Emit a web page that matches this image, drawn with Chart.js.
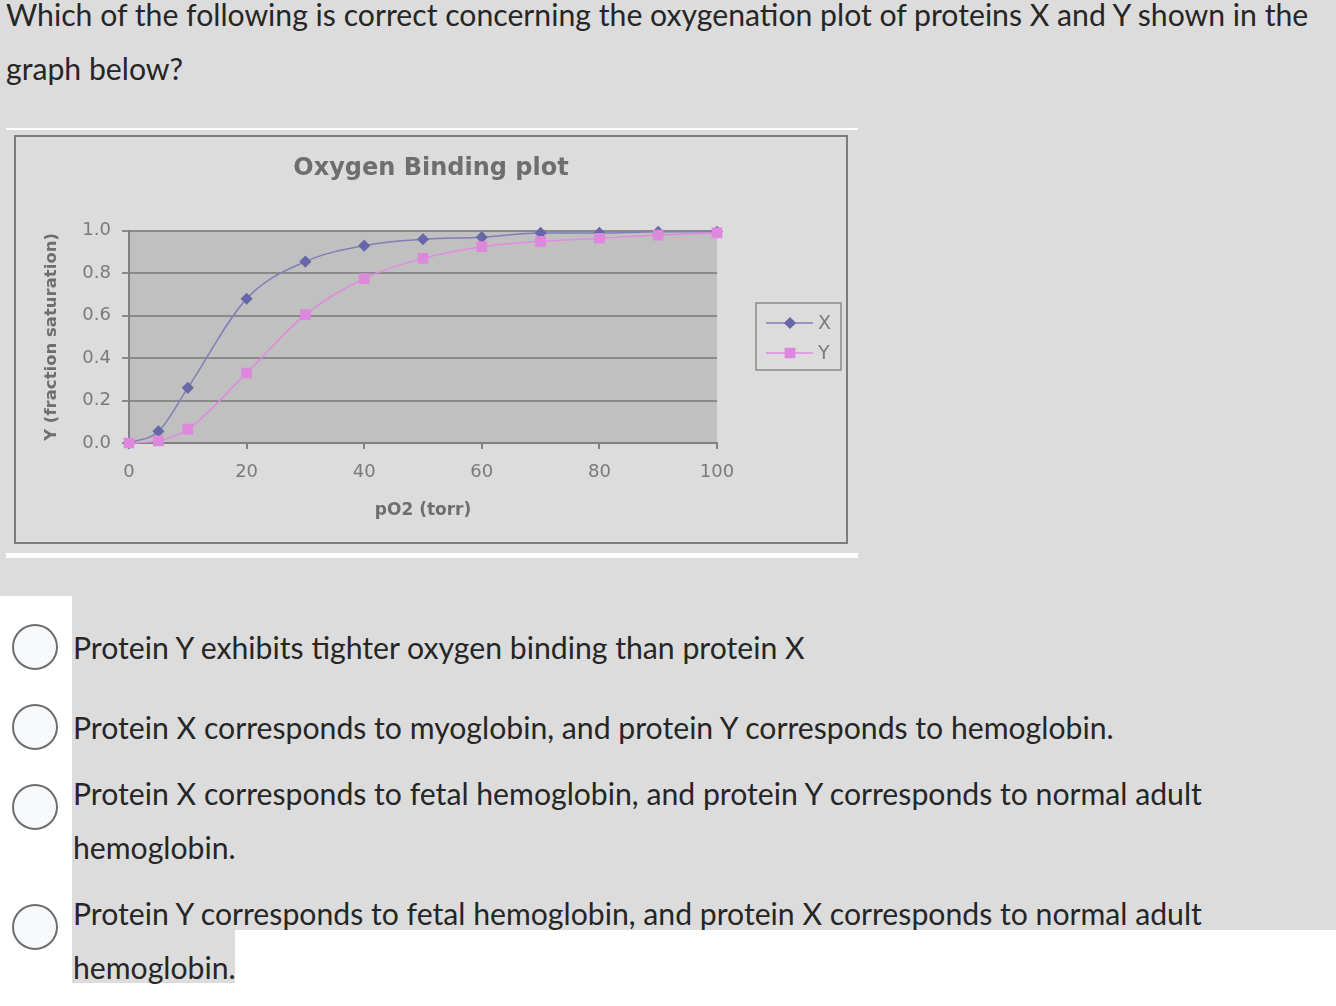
<!DOCTYPE html>
<html lang="en">
<head>
  <meta charset="UTF-8">
  <title>Oxygen Binding plot</title>
  <script src="https://cdn.jsdelivr.net/npm/chart.js"></script>
  <style>
    html, body { margin: 0; padding: 0; }
    body { width: 1336px; height: 1006px; position: relative; overflow: hidden; background: #fff; font-family: Lato, "Open Sans", sans-serif; color: #262626; }
    .blk { position: absolute; background: #dcdcdc; }
    .wline { position: absolute; background: #fff; }
    .txt { position: absolute; font-size: 30.2px; line-height: 54px; white-space: nowrap; }
    .radio { position: absolute; left: 12px; width: 42px; height: 42px; border: 2px solid #6e6e6e; border-radius: 50%; background: #f8f9fc; }
    #chartBox { position: absolute; left: 14px; top: 135px; width: 830px; height: 405px; border: 2px solid #7c7c7c; background: #dcdcdc; }
    #chartBox canvas { display: block; }
  </style>
</head>
<body>
  <div class="blk" style="left:0;top:0;width:1336px;height:596px"></div>
  <div class="blk" style="left:72px;top:596px;width:1264px;height:334px"></div>
  <div class="blk" style="left:72px;top:930px;width:163px;height:53px"></div>
  <div class="wline" style="left:6px;top:128px;width:852px;height:2px"></div>
  <div class="wline" style="left:6px;top:553px;width:852px;height:5px"></div>

  <div class="txt" style="left:6px;top:-13px">Which of the following is correct concerning the oxygenation plot of proteins X and Y shown in the<br>graph below?</div>

  <div id="chartBox"><canvas id="o2Chart" width="830" height="405"></canvas></div>

  <div class="radio" style="top:624px"></div>
  <div class="txt" style="left:73px;top:620px">Protein Y exhibits tighter oxygen binding than protein X</div>
  <div class="radio" style="top:704px"></div>
  <div class="txt" style="left:73px;top:700px">Protein X corresponds to myoglobin, and protein Y corresponds to hemoglobin.</div>
  <div class="radio" style="top:784px"></div>
  <div class="txt" style="left:73px;top:766px">Protein X corresponds to fetal hemoglobin, and protein Y corresponds to normal adult<br>hemoglobin.</div>
  <div class="radio" style="top:904px"></div>
  <div class="txt" style="left:73px;top:886px">Protein Y corresponds to fetal hemoglobin, and protein X corresponds to normal adult<br>hemoglobin.</div>

  <script>
    // pO2 in torr, fraction saturation
    const pO2 = [0, 5, 10, 20, 30, 40, 50, 60, 70, 80, 90, 100];
    const proteinX = [0, 0.055, 0.26, 0.68, 0.855, 0.93, 0.96, 0.97, 0.99, 0.99, 0.995, 0.995];
    const proteinY = [0, 0.01, 0.065, 0.33, 0.605, 0.775, 0.87, 0.925, 0.95, 0.965, 0.98, 0.99];
    const seriesNames = ['X', 'Y'];
    const xTicks = [0, 20, 40, 60, 80, 100];
    const yTicks = [0, 0.2, 0.4, 0.6, 0.8, 1.0];

    const FONT = "'DejaVu Sans', Verdana, sans-serif";
    const GREY = '#7a7a7a';

    const plotBg = {
      id: 'plotBg',
      beforeDraw(chart) {
        const { ctx, chartArea: a } = chart;
        ctx.save();
        ctx.fillStyle = '#c0c0c0';
        ctx.fillRect(a.left, a.top, a.right - a.left, a.bottom - a.top);
        ctx.restore();
      }
    };

    // excel style legend box: line + marker + label
    const boxLegend = {
      id: 'boxLegend',
      afterDraw(chart) {
        const { ctx } = chart;
        const bx = 740, by = 166, bw = 85, bh = 67;
        ctx.save();
        ctx.strokeStyle = '#8a8a8a';
        ctx.lineWidth = 1.5;
        ctx.strokeRect(bx, by, bw, bh);
        chart.data.datasets.forEach((ds, i) => {
          const y = by + 20 + i * 30;
          ctx.strokeStyle = ds.borderColor;
          ctx.lineWidth = 1.5;
          ctx.beginPath(); ctx.moveTo(bx + 10, y); ctx.lineTo(bx + 57, y); ctx.stroke();
          ctx.fillStyle = ds.pointBackgroundColor;
          ctx.strokeStyle = ds.pointBorderColor;
          Chart.helpers.drawPoint(ctx, { pointStyle: ds.pointStyle, radius: ds.pointRadius, borderWidth: 1 }, bx + 34, y);
          ctx.fillStyle = GREY;
          ctx.font = '19px ' + FONT;
          ctx.textBaseline = 'middle';
          ctx.fillText(ds.label, bx + 62, y + 1);
        });
        ctx.restore();
      }
    };

    new Chart(document.getElementById('o2Chart'), {
      type: 'line',
      data: {
        labels: pO2,
        datasets: [
          { label: seriesNames[0], data: pO2.map((p, i) => ({ x: p, y: proteinX[i] })), clip: false, order: 1,
            borderColor: '#7f7fb8', borderWidth: 1.5, pointStyle: 'rectRot', pointRadius: 5,
            pointBackgroundColor: '#6868a8', pointBorderColor: '#6868a8', cubicInterpolationMode: 'monotone' },
          { label: seriesNames[1], data: pO2.map((p, i) => ({ x: p, y: proteinY[i] })), clip: false, order: 0,
            borderColor: '#e08ae0', borderWidth: 1.5, pointStyle: 'rect', pointRadius: 6.5,
            pointBackgroundColor: '#dd88dd', pointBorderColor: '#dd88dd', cubicInterpolationMode: 'monotone' }
        ]
      },
      options: {
        responsive: false,
        animation: false,
        layout: { padding: 0 },
        plugins: {
          legend: { display: false },
          tooltip: { enabled: false },
          title: { display: true, text: 'Oxygen Binding plot', color: '#6e6e6e',
            font: { family: FONT, size: 24, weight: 'bold' }, padding: { top: 17, bottom: 48 } }
        },
        scales: {
          x: {
            type: 'linear', min: 0, max: 100,
            afterFit(s) { s.height = 99; },
            afterBuildTicks(s) { s.ticks = xTicks.map(v => ({ value: v })); },
            grid: { drawOnChartArea: false, drawTicks: true, tickLength: 6, color: '#808080', lineWidth: 2 },
            border: { color: '#808080', width: 2 },
            ticks: { color: GREY, padding: 13, font: { family: FONT, size: 18 } },
            title: { display: true, text: 'pO2 (torr)', color: '#6e6e6e',
              font: { family: FONT, size: 17, weight: 'bold' }, padding: { top: 0, bottom: 21 } }
          },
          y: {
            min: 0, max: 1,
            afterFit(s) { s.width = 113; },
            afterBuildTicks(s) { s.ticks = yTicks.map(v => ({ value: v })); },
            grid: { color: '#8a8a8a', lineWidth: 2, tickLength: 7 },
            border: { color: '#808080', width: 2 },
            ticks: { color: GREY, padding: 11, font: { family: FONT, size: 18 }, callback: v => v.toFixed(1) },
            title: { display: true, text: 'Y (fraction saturation)', color: '#6e6e6e',
              font: { family: FONT, size: 16.5, weight: 'bold' }, padding: { top: 26, bottom: 0 } }
          },
          // empty right axis only reserves the room where the legend sits
          side: {
            position: 'right', display: true,
            afterFit(s) { s.width = 129; },
            grid: { display: false }, border: { display: false }, ticks: { display: false }
          }
        }
      },
      plugins: [plotBg, boxLegend]
    });
  </script>
</body>
</html>
